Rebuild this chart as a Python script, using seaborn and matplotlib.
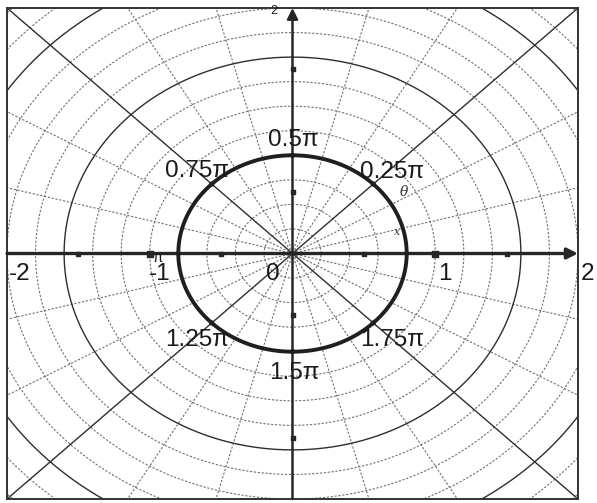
import numpy as np
import pandas as pd
import matplotlib
matplotlib.use("Agg")
import matplotlib.pyplot as plt
import seaborn as sns

# Curve: a circle of constant radius in polar form
curve_radius = 0.8

# Labelled points on the curve (angles in multiples of pi)
point_angles = [0.25, 0.5, 0.75, 1.0, 1.25, 1.5, 1.75]
point_labels = ["0.25π", "0.5π", "0.75π", "π", "1.25π", "1.5π", "1.75π"]
# label offsets in pixels from each point
label_dx = [19, 0.5, -15, -21, -15, 1.5, 19]
label_dy = [12, 15, 13, -4, -17, -21, -17]
label_size = [17.5, 17.5, 17.5, 11, 17.5, 17.5, 17.5]

# Axis numbers
axis_values = [-2, -1, 0, 1, 2]
axis_labels = ["-2", "-1", "0", "1", "2"]
axis_label_x = [-1.909, -0.928, -0.137, 1.07, 2.07]

# Polar grid
ring_radii = np.round(np.arange(0.2, 2.81, 0.2), 1)
solid_rings = [0.8, 1.6, 2.4]
spoke_degrees = np.arange(0, 360, 15)
solid_spokes = [45, 135, 225, 315]

W, H, DPI = 597, 503, 100
sns.set_theme(style="white")
plt.rcParams["font.family"] = ["Liberation Sans", "DejaVu Sans"]

fig = plt.figure(figsize=(W / DPI, H / DPI), dpi=DPI)
fig.patch.set_facecolor("white")
ax = fig.add_axes([7 / W, 4 / H, 571 / W, 491 / H])
ax.set_xlim(-2, 2)
ax.set_ylim(-2, 2)
ax.set_xticks([])
ax.set_yticks([])
for s in ax.spines.values():
    s.set_color("#333333")
    s.set_linewidth(1.4)

grid_dash = (0, (2.0, 1.5))
t = np.linspace(0, 2 * np.pi, 721)
for r in ring_radii:
    if r in solid_rings:
        ax.plot(r * np.cos(t), r * np.sin(t), color="#2e2e2e", lw=1.0, zorder=2)
    else:
        ax.plot(r * np.cos(t), r * np.sin(t), color="#707070", lw=0.8,
                linestyle=grid_dash, zorder=1)
for d in spoke_degrees:
    a = np.deg2rad(d)
    if d in (0, 90, 180, 270):
        continue
    if d in solid_spokes:
        ax.plot([0, 3 * np.cos(a)], [0, 3 * np.sin(a)], color="#2e2e2e", lw=1.0, zorder=2)
    else:
        ax.plot([0, 3 * np.cos(a)], [0, 3 * np.sin(a)], color="#707070", lw=0.8,
                linestyle=grid_dash, zorder=1)

# Coordinate axes with arrowheads
ax.annotate("", xy=(2.0, 0), xytext=(-2.0, 0),
            arrowprops=dict(arrowstyle="-|>", lw=2.4, color="#262626",
                            mutation_scale=16, shrinkA=0, shrinkB=0), zorder=4)
ax.annotate("", xy=(0, 2.0), xytext=(0, -2.0),
            arrowprops=dict(arrowstyle="-|>", lw=1.8, color="#262626",
                            mutation_scale=16, shrinkA=0, shrinkB=0), zorder=4)

# Tick marks on the axes
tick_pos = [-1.5, -0.5, 0.5, 1.5]
ax.scatter(tick_pos, [0] * 4, s=10, marker="s", color="#262626", zorder=5)
ax.scatter([-1, 1], [0, 0], s=22, marker="s", color="#262626", zorder=5)
ax.scatter([0] * 4, tick_pos, s=8, marker="s", color="#262626", zorder=5)

# The curve
curve = pd.DataFrame({"x": curve_radius * np.cos(t), "y": curve_radius * np.sin(t)})
sns.lineplot(data=curve, x="x", y="y", sort=False, estimator=None,
             color="#1f1f1f", lw=2.8, ax=ax, zorder=6)

# Points on the curve
ang = np.array(point_angles) * np.pi
pts = pd.DataFrame({"x": curve_radius * np.cos(ang), "y": curve_radius * np.sin(ang)})
sns.scatterplot(data=pts, x="x", y="y", s=14, color="#1f1f1f", edgecolor="none",
                ax=ax, zorder=7)
for x, y, lab, dx, dy, fs in zip(pts["x"], pts["y"], point_labels,
                                 label_dx, label_dy, label_size):
    ax.annotate(lab, (x, y), xytext=(dx, dy), textcoords="offset pixels",
                ha="center", va="center", fontsize=fs, color="#1a1a1a", zorder=8)

# Axis numbers
for xv, lab in zip(axis_label_x, axis_labels):
    ax.text(xv, -0.167, lab, ha="center", va="center", fontsize=17.5,
            color="#1a1a1a", clip_on=False, zorder=8)
ax.text(-0.133, 1.975, "2", ha="center", va="center", fontsize=9,
        color="#1a1a1a", zorder=8)

# Angle annotation symbols
ax.text(0.73, 0.175, "x", ha="center", va="center", fontsize=8, style="italic",
        family="DejaVu Serif", color="#333333", zorder=8)
ax.text(0.78, 0.50, "θ", ha="center", va="center", fontsize=10, style="italic",
        family="DejaVu Serif", color="#333333", zorder=8)

ax.set_xlabel("")
ax.set_ylabel("")
fig.savefig("out.png", dpi=DPI, facecolor="white")
